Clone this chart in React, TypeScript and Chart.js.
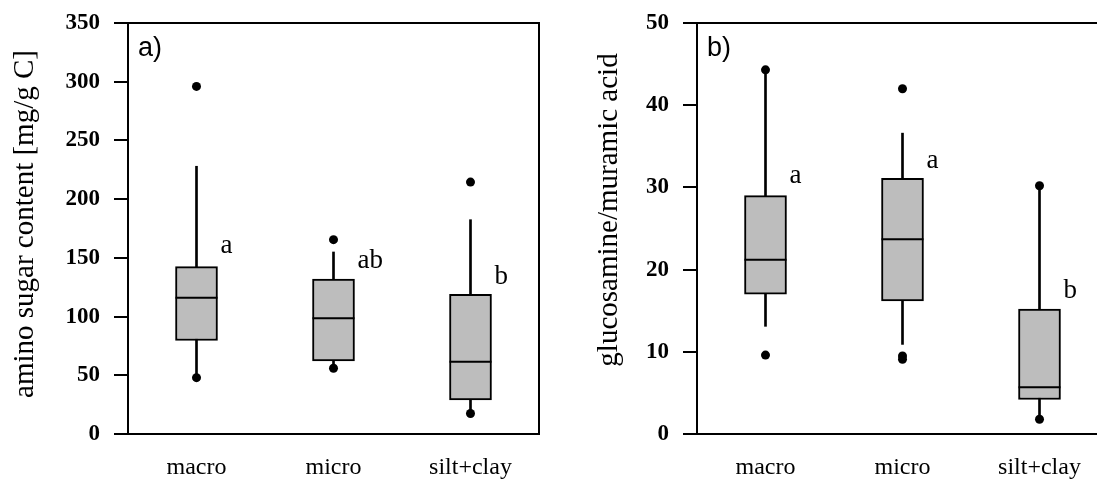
import React, { useEffect, useRef } from "react";
import { Chart, registerables } from "chart.js";

Chart.register(...registerables);

const categories = ["macro", "micro", "silt+clay"];

// Panel a) amino sugar content
const aWhiskLow = [50, 58, 20];
const aQ1 = [79.6, 62.3, 29];
const aMedian = [116, 98.5, 61.5];
const aQ3 = [142.5, 132, 119];
const aWhiskHigh = [228, 155, 182.5];
const aOutliers = [[296, 48], [165.5, 56], [214.5, 17.5]];
const aLetters = ["a", "ab", "b"];
const aLetterY = [154, 141, 128];
const aAxisMax = 350;
const aAxisStep = 50;
const aTitle = "amino sugar content [mg/g C]";
const aPanelLabel = "a)";

// Panel b) glucosamine / muramic acid
const bWhiskLow = [13.1, 10.9, 2.2];
const bQ1 = [17, 16.2, 4.2];
const bMedian = [21.2, 23.7, 5.7];
const bQ3 = [29, 31.1, 15.2];
const bWhiskHigh = [43.8, 36.6, 29.8];
const bOutliers = [[44.3, 9.6], [42.0, 9.5, 9.1], [30.2, 1.8]];
const bLetters = ["a", "a", "b"];
const bLetterY = [30.5, 32.4, 16.5];
const bAxisMax = 50;
const bAxisStep = 10;
const bTitle = "glucosamine/muramic acid";
const bPanelLabel = "b)";

const SERIF = "'Liberation Serif', 'Times New Roman', serif";
const SANS = "'Liberation Sans', Arial, sans-serif";

type PanelCfg = {
  whiskLow: number[];
  q1: number[];
  median: number[];
  q3: number[];
  whiskHigh: number[];
  outliers: number[][];
  letters: string[];
  letterY: number[];
  axisMax: number;
  axisStep: number;
  title: string;
  titleX: number;
  titleY: number;
  panelLabel: string;
  canvasLeft: number;
  canvasWidth: number;
  padLeft: number;
  padRight: number;
  yWidth: number;
};

function BoxPanel({ cfg }: { cfg: PanelCfg }) {
  const ref = useRef<HTMLCanvasElement>(null);
  useEffect(() => {
    if (!ref.current) return;
    const points: { x: string; y: number }[] = [];
    cfg.outliers.forEach((arr, i) => arr.forEach((v) => points.push({ x: categories[i], y: v })));

    const overlayPlugin = {
      id: "overlay",
      afterDatasetsDraw(chart: any) {
        const ctx = chart.ctx;
        const yScale = chart.scales.y;
        const boxMeta = chart.getDatasetMeta(1);
        ctx.save();
        ctx.strokeStyle = "#000";
        ctx.lineWidth = 2;
        boxMeta.data.forEach((el: any, i: number) => {
          const y = yScale.getPixelForValue(cfg.median[i]);
          ctx.beginPath();
          ctx.moveTo(el.x - el.width / 2, y);
          ctx.lineTo(el.x + el.width / 2, y);
          ctx.stroke();
        });
        ctx.fillStyle = "#000";
        ctx.font = `27px ${SERIF}`;
        ctx.textAlign = "left";
        ctx.textBaseline = "alphabetic";
        boxMeta.data.forEach((el: any, i: number) => {
          ctx.fillText(cfg.letters[i], el.x + el.width / 2 + 3, yScale.getPixelForValue(cfg.letterY[i]));
        });
        ctx.restore();
      },
      afterDraw(chart: any) {
        const ctx = chart.ctx;
        const { left, top, right, bottom } = chart.chartArea;
        ctx.save();
        ctx.strokeStyle = "#000";
        ctx.lineWidth = 2;
        ctx.strokeRect(left, top, right - left, bottom - top);
        ctx.fillStyle = "#000";
        ctx.font = `27px ${SANS}`;
        ctx.textAlign = "left";
        ctx.textBaseline = "alphabetic";
        ctx.fillText(cfg.panelLabel, left + 10, top + 33);
        // y-axis title
        ctx.font = `29px ${SERIF}`;
        ctx.textAlign = "center";
        ctx.textBaseline = "middle";
        ctx.translate(cfg.titleX, cfg.titleY);
        ctx.rotate(-Math.PI / 2);
        ctx.fillText(cfg.title, 0, 0);
        ctx.restore();
      },
    };

    const chart = new Chart(ref.current, {
      type: "bar",
      data: {
        labels: categories,
        datasets: [
          {
            type: "line",
            label: "outliers",
            data: points as any,
            showLine: false,
            pointRadius: 4.5,
            pointHoverRadius: 4.5,
            pointBackgroundColor: "#000",
            pointBorderColor: "#000",
            pointBorderWidth: 0,
            order: 0,
          } as any,
          {
            type: "bar",
            label: "box",
            data: cfg.q1.map((v, i) => [v, cfg.q3[i]]) as any,
            backgroundColor: "#bdbdbd",
            borderColor: "#000",
            borderWidth: 2,
            borderSkipped: false,
            barThickness: 42,
            grouped: false,
            order: 1,
          } as any,
          {
            type: "bar",
            label: "whisker",
            data: cfg.whiskLow.map((v, i) => [v, cfg.whiskHigh[i]]) as any,
            backgroundColor: "#000",
            borderWidth: 0,
            barThickness: 2,
            grouped: false,
            order: 2,
          } as any,
        ],
      },
      options: {
        animation: false,
        responsive: false,
        layout: { padding: { left: cfg.padLeft, top: 23, right: cfg.padRight, bottom: 0 } },
        plugins: { legend: { display: false }, tooltip: { enabled: false } },
        scales: {
          x: {
            grid: { display: false, drawTicks: false, tickLength: 0 },
            border: { display: false },
            ticks: { color: "#000", font: { family: SERIF, size: 24 }, padding: 19 },
            afterFit: (s: any) => {
              s.height = 46;
              s.paddingLeft = 0;
              s.paddingRight = 0;
            },
          },
          y: {
            min: 0,
            max: cfg.axisMax,
            ticks: {
              stepSize: cfg.axisStep,
              color: "#000",
              font: { family: SERIF, size: 23, weight: "bold" },
              padding: 14,
            },
            grid: { drawOnChartArea: false, drawTicks: true, tickLength: 14, color: "#000", lineWidth: 2 },
            border: { display: false },
            afterFit: (s: any) => {
              s.width = cfg.yWidth;
              s.paddingTop = 0;
              s.paddingBottom = 0;
            },
          },
        },
      } as any,
      plugins: [overlayPlugin],
    });
    return () => chart.destroy();
  }, []);
  return (
    <div style={{ position: "absolute", left: cfg.canvasLeft, top: 0, width: cfg.canvasWidth, height: 480 }}>
      <canvas ref={ref} width={cfg.canvasWidth} height={480} style={{ display: "block", width: cfg.canvasWidth, height: 480 }} />
    </div>
  );
}

const panelA: PanelCfg = {
  whiskLow: aWhiskLow,
  q1: aQ1,
  median: aMedian,
  q3: aQ3,
  whiskHigh: aWhiskHigh,
  outliers: aOutliers,
  letters: aLetters,
  letterY: aLetterY,
  axisMax: aAxisMax,
  axisStep: aAxisStep,
  title: aTitle,
  titleX: 25,
  titleY: 224,
  panelLabel: aPanelLabel,
  canvasLeft: 0,
  canvasWidth: 560,
  padLeft: 0,
  padRight: 21,
  yWidth: 128,
};

const panelB: PanelCfg = {
  whiskLow: bWhiskLow,
  q1: bQ1,
  median: bMedian,
  q3: bQ3,
  whiskHigh: bWhiskHigh,
  outliers: bOutliers,
  letters: bLetters,
  letterY: bLetterY,
  axisMax: bAxisMax,
  axisStep: bAxisStep,
  title: bTitle,
  titleX: 49,
  titleY: 210,
  panelLabel: bPanelLabel,
  canvasLeft: 560,
  canvasWidth: 560,
  padLeft: 24,
  padRight: 12,
  yWidth: 113,
};

export default function App() {
  return (
    <div style={{ position: "absolute", left: 0, top: 0, width: 1097, height: 480, overflow: "hidden", background: "#fff" }}>
      <BoxPanel cfg={panelA} />
      <BoxPanel cfg={panelB} />
    </div>
  );
}
